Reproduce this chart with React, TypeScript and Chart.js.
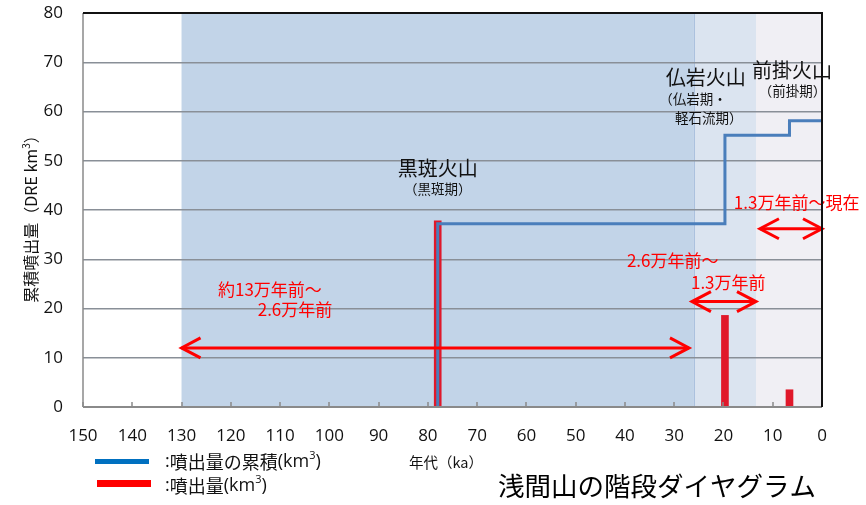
import React, { useEffect, useRef } from 'react';
import { Chart, registerables } from 'chart.js';

Chart.register(...registerables);

// ---------- data ----------
// eruption episodes: age (ka) and erupted volume (DRE km3)
const eruptionAges = [78, 19.7, 6.6];
const eruptionVolumes = [37.8, 18.6, 3.5];
// cumulative volume after each episode (DRE km3)
const cumulativeAfter = [37.2, 55.2, 58.1];
const presentAge = 0;

// x ticks (ka) and y ticks (km3)
const xMin = 0;
const xMax = 150;
const xStep = 10;
const yMin = 0;
const yMax = 80;
const yStep = 10;

// volcanic periods (ka boundaries)
const periodStarts = [130, 26, 13.4];
const periodEnds = [26, 13.4, 0];

// red range arrows: [from ka, to ka, at km3]
const arrowFrom = [130, 26.4, 12.6];
const arrowTo = [27, 13.4, 0];
const arrowLevel = [12.0, 21.4, 36.2];

// labels
const volcanoNames = ['黒斑火山', '仏岩火山', '前掛火山'];
const volcanoPeriodLines = [['（黒斑期）'], ['（仏岩期・', '軽石流期）'], ['（前掛期）']];
const rangeTexts = ['約13万年前～', '2.6万年前', '2.6万年前～', '1.3万年前', '1.3万年前～現在'];

const legendCumulative = '噴出量の累積';
const legendVolume = '噴出量';
const xAxisTitle = '年代（ka）';
const yAxisTitle = '累積噴出量（DRE km';
const chartTitle = '浅間山の階段ダイヤグラム';

// ---------- layout / style (not data) ----------
const JP = "'Noto Sans CJK JP', 'Noto Sans', sans-serif";
const NUM = "'Open Sans', 'Noto Sans', sans-serif";
const periodColors = ['#c2d4e8', '#dbe4f0', '#f0eff4'];
// anchor positions in data units: [ka, km3]
const volcanoNamePos = [[78, 48.4], [23.6, 66.9], [6.1, 68.4]];
const volcanoPeriodPos = [[[78, 44.3]], [[26.2, 62.6], [23.0, 58.7]], [[6.0, 64.1]]];
const rangeTextPos = [[122.6, 23.9, 'left'], [99.4, 19.8, 'right'], [39.6, 29.8, 'left'], [26.6, 25.3, 'left'], [17.9, 41.6, 'left']];

type Seg = { t: string; sup?: boolean; f?: string };

function segFont(s: Seg, size: number, family: string) {
  const sz = s.sup ? Math.round(size * 0.62) : size;
  return `${sz}px ${s.f || family}`;
}

function richWidth(ctx: CanvasRenderingContext2D, segs: Seg[], size: number, family: string) {
  let w = 0;
  for (const s of segs) {
    ctx.font = segFont(s, size, family);
    w += ctx.measureText(s.t).width;
  }
  return w;
}

function drawRich(ctx: CanvasRenderingContext2D, segs: Seg[], x: number, y: number, size: number, family: string, align: 'left' | 'center') {
  const w = richWidth(ctx, segs, size, family);
  let cx = align === 'center' ? x - w / 2 : x;
  ctx.textAlign = 'left';
  ctx.textBaseline = 'middle';
  for (const s of segs) {
    ctx.font = segFont(s, size, family);
    ctx.fillText(s.t, cx, s.sup ? y - size * 0.32 : y);
    cx += ctx.measureText(s.t).width;
  }
}

function arrowHead(ctx: CanvasRenderingContext2D, tipX: number, y: number, dir: number) {
  ctx.beginPath();
  ctx.moveTo(tipX - dir * 19, y - 10);
  ctx.lineTo(tipX, y);
  ctx.lineTo(tipX - dir * 19, y + 10);
  ctx.stroke();
}

const overlayPlugin = {
  id: 'overlay',
  beforeDraw(chart: any) {
    const { ctx, chartArea: a, scales } = chart;
    const x = scales.x;
    ctx.save();
    ctx.fillStyle = '#ffffff';
    ctx.fillRect(0, 0, chart.width, chart.height);
    periodStarts.forEach((s, i) => {
      const x1 = x.getPixelForValue(s);
      const x2 = x.getPixelForValue(periodEnds[i]);
      ctx.fillStyle = periodColors[i];
      ctx.fillRect(x1, a.top, x2 - x1, a.bottom - a.top);
    });
    const bx = x.getPixelForValue(periodEnds[0]);
    ctx.strokeStyle = '#a7bedc';
    ctx.lineWidth = 1;
    ctx.beginPath();
    ctx.moveTo(bx + 0.5, a.top);
    ctx.lineTo(bx + 0.5, a.bottom);
    ctx.stroke();
    ctx.restore();
  },
  afterDatasetsDraw(chart: any) {
    const { ctx, scales } = chart;
    const x = scales.x;
    const y = scales.y;
    ctx.save();
    ctx.strokeStyle = '#ff0000';
    ctx.lineWidth = 3;
    ctx.lineCap = 'butt';
    arrowFrom.forEach((f, i) => {
      const x1 = x.getPixelForValue(f);
      const x2 = x.getPixelForValue(arrowTo[i]);
      const py = y.getPixelForValue(arrowLevel[i]);
      ctx.beginPath();
      ctx.moveTo(x1, py);
      ctx.lineTo(x2, py);
      ctx.stroke();
      arrowHead(ctx, x1, py, -1);
      arrowHead(ctx, x2, py, 1);
    });
    ctx.fillStyle = '#ff0000';
    ctx.font = `17px ${JP}`;
    ctx.textBaseline = 'middle';
    rangeTexts.forEach((t, i) => {
      const p = rangeTextPos[i];
      ctx.textAlign = p[2] as CanvasTextAlign;
      ctx.fillText(t, x.getPixelForValue(p[0] as number), y.getPixelForValue(p[1] as number));
    });
    ctx.fillStyle = '#111111';
    ctx.textAlign = 'center';
    volcanoNames.forEach((n, i) => {
      ctx.font = `20px ${JP}`;
      const p = volcanoNamePos[i];
      ctx.fillText(n, x.getPixelForValue(p[0]), y.getPixelForValue(p[1]));
      ctx.font = `13.5px ${JP}`;
      volcanoPeriodLines[i].forEach((line, j) => {
        const q = volcanoPeriodPos[i][j];
        ctx.fillText(line, x.getPixelForValue(q[0]), y.getPixelForValue(q[1]));
      });
    });
    ctx.restore();
  },
  afterDraw(chart: any) {
    const { ctx, chartArea: a, scales } = chart;
    const x = scales.x;
    ctx.save();
    ctx.strokeStyle = '#8a8a8a';
    ctx.lineWidth = 1.5;
    for (let v = xMin; v <= xMax; v += xStep) {
      const px = Math.round(x.getPixelForValue(v));
      ctx.beginPath();
      ctx.moveTo(px, a.bottom);
      ctx.lineTo(px, a.bottom - 5);
      ctx.stroke();
    }
    ctx.strokeStyle = '#8a8a8a';
    ctx.lineWidth = 1.5;
    ctx.beginPath();
    ctx.moveTo(a.left, a.top);
    ctx.lineTo(a.left, a.bottom);
    ctx.stroke();
    ctx.lineWidth = 2;
    ctx.beginPath();
    ctx.moveTo(a.left, a.bottom);
    ctx.lineTo(a.right, a.bottom);
    ctx.stroke();
    ctx.strokeStyle = '#111111';
    ctx.lineWidth = 2;
    ctx.beginPath();
    ctx.moveTo(a.left, a.top);
    ctx.lineTo(a.right, a.top);
    ctx.lineTo(a.right, a.bottom);
    ctx.stroke();

    ctx.fillStyle = '#111111';
    ctx.save();
    ctx.translate(31, 215);
    ctx.rotate(-Math.PI / 2);
    drawRich(ctx, [{ t: yAxisTitle }, { t: '3', sup: true }, { t: '）' }], 0, 0, 16, JP, 'center');
    ctx.restore();

    ctx.lineCap = 'butt';
    ctx.strokeStyle = '#0070c0';
    ctx.lineWidth = 5;
    ctx.beginPath();
    ctx.moveTo(95, 461.5);
    ctx.lineTo(149, 461.5);
    ctx.stroke();
    ctx.strokeStyle = '#ff0000';
    ctx.lineWidth = 7;
    ctx.beginPath();
    ctx.moveTo(97, 483.5);
    ctx.lineTo(151, 483.5);
    ctx.stroke();
    ctx.fillStyle = '#111111';
    drawRich(ctx, [{ t: ':', f: NUM }, { t: legendCumulative }, { t: '(km', f: NUM }, { t: '3', sup: true, f: NUM }, { t: ')', f: NUM }], 165, 462, 18, JP, 'left');
    drawRich(ctx, [{ t: ':', f: NUM }, { t: legendVolume }, { t: '(km', f: NUM }, { t: '3', sup: true, f: NUM }, { t: ')', f: NUM }], 165, 486, 18, JP, 'left');

    ctx.font = `14.5px ${JP}`;
    ctx.textAlign = 'left';
    ctx.textBaseline = 'middle';
    ctx.fillText(xAxisTitle, 409, 462);

    ctx.font = `26.5px ${JP}`;
    ctx.fillStyle = '#000000';
    ctx.fillText(chartTitle, 498, 486);
    ctx.restore();
  },
};

export default function App() {
  const ref = useRef<HTMLCanvasElement | null>(null);

  useEffect(() => {
    document.body.style.margin = '0';
    const canvas = ref.current;
    if (!canvas) return;

    const barData = eruptionAges.map((age, i) => ({ x: age, y: eruptionVolumes[i] }));
    const stepData: { x: number; y: number }[] = [{ x: eruptionAges[0], y: 0 }];
    eruptionAges.forEach((age, i) => {
      stepData.push({ x: age, y: cumulativeAfter[i] });
      const nextAge = i + 1 < eruptionAges.length ? eruptionAges[i + 1] : presentAge;
      stepData.push({ x: nextAge, y: cumulativeAfter[i] });
    });

    const chart = new Chart(canvas, {
      type: 'line',
      data: {
        datasets: [
          {
            type: 'line',
            label: '噴出量の累積',
            data: stepData,
            borderColor: '#4a7ebb',
            borderWidth: 3,
            pointRadius: 0,
            fill: false,
            tension: 0,
            order: 0,
          } as any,
          {
            type: 'bar',
            label: '噴出量',
            data: barData,
            backgroundColor: '#e0182a',
            borderWidth: 0,
            barThickness: 7,
            order: 1,
          } as any,
        ],
      },
      options: {
        responsive: false,
        animation: false,
        devicePixelRatio: 1,
        layout: { padding: { top: 13, right: 44, left: 0, bottom: 0 } },
        plugins: {
          legend: { display: false },
          tooltip: { enabled: false },
        },
        scales: {
          x: {
            type: 'linear',
            reverse: true,
            min: xMin,
            max: xMax,
            offset: false,
            grid: { display: false, drawTicks: false },
            border: { display: false },
            ticks: {
              stepSize: xStep,
              autoSkip: false,
              maxRotation: 0,
              padding: 19,
              color: '#111111',
              font: { family: NUM, size: 17 },
            },
            afterFit: (scale: any) => {
              scale.height = 98;
              scale.paddingLeft = 0;
              scale.paddingRight = 0;
            },
          },
          y: {
            type: 'linear',
            min: yMin,
            max: yMax,
            grid: { color: '#898f97', lineWidth: 1.5, drawTicks: false },
            border: { display: false },
            ticks: {
              stepSize: yStep,
              padding: 20,
              color: '#111111',
              font: { family: NUM, size: 17 },
            },
            afterFit: (scale: any) => {
              scale.width = 83;
              scale.paddingTop = 0;
              scale.paddingBottom = 0;
            },
          },
        },
      },
      plugins: [overlayPlugin],
    });

    return () => chart.destroy();
  }, []);

  return (
    <div style={{ width: 866, height: 505, position: 'relative' }}>
      <canvas ref={ref} width={866} height={505} style={{ display: 'block' }} />
    </div>
  );
}
